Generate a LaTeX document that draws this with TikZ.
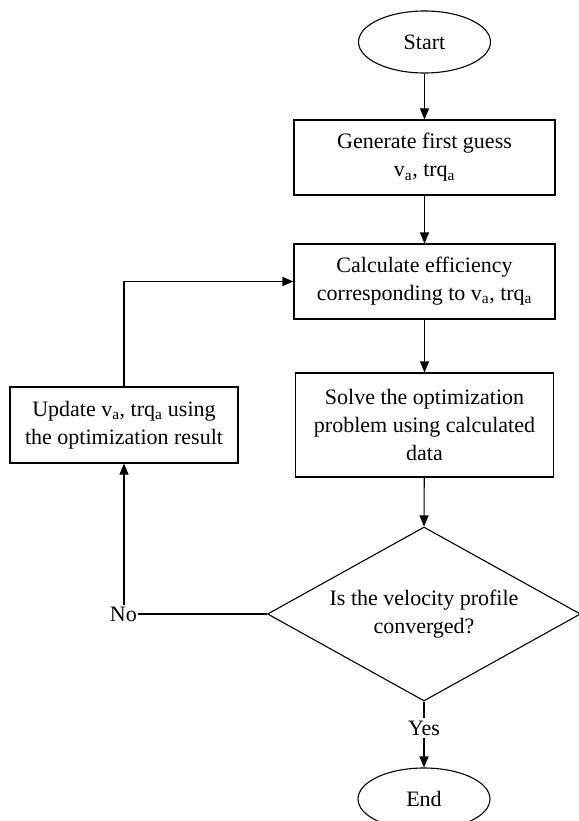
\documentclass[tikz,border=0pt]{standalone}
\usepackage{fontspec}
\setmainfont{Liberation Serif}
\usetikzlibrary{shapes.geometric,arrows.meta}

\begin{document}
\begin{tikzpicture}[x=1pt,y=-1pt,
  every node/.style={font=\fontsize{22}{28}\selectfont, align=center},
  flowbox/.style={draw, line width=1.1pt, rectangle, inner sep=2pt},
  terminal/.style={draw, line width=1.1pt, ellipse, minimum width=132pt, minimum height=62pt, inner sep=0pt},
  decision/.style={draw, line width=1.1pt, diamond, aspect=1.8, minimum width=313pt, minimum height=174pt, inner sep=0pt},
  flowlabel/.style={inner sep=1pt, fill=white},
  link/.style={line width=1.1pt, -{Triangle[length=11pt,width=9pt]}},
  plain/.style={line width=1.1pt}
]
\useasboundingbox (0,0) rectangle (578,821);

% main column
\node[terminal] (start) at (424.5,42) {Start};
\node[flowbox, minimum width=261pt, minimum height=75pt] (gen) at (424.5,157.5)
  {Generate first guess\\v\textsubscript{a}, trq\textsubscript{a}};
\node[flowbox, minimum width=261pt, minimum height=75pt] (calc) at (424.5,281.5)
  {Calculate efficiency\\corresponding to v\textsubscript{a}, trq\textsubscript{a}};
\node[flowbox, minimum width=258pt, minimum height=104pt] (solve) at (424.5,425)
  {Solve the optimization\\problem using calculated\\data};
\node[decision] (dec) at (424,614) {Is the velocity profile\\converged?};
\node[terminal] (end) at (424,799) {End};

% feedback branch
\node[flowbox, minimum width=228pt, minimum height=76pt] (upd) at (124,425)
  {Update v\textsubscript{a}, trq\textsubscript{a} using\\the optimization result};

% branch labels
\node[flowlabel, inner sep=2pt] (yes) at (424,728) {Yes};
\node[flowlabel, anchor=east] (no) at (dec.west -| 138,0) {No};

% connectors
\draw[link] (start) -- (gen);
\draw[link] (gen) -- (calc);
\draw[link] (calc) -- (solve);
\draw[link] (solve) -- (dec.north);
\draw[plain] (dec.south) -- (yes.north);
\draw[link] (yes.south) -- (end.north);
\draw[plain] (dec.west) -- (no.east);
\draw[link] (no.north -| upd.south) -- (upd.south);
\draw[link] (upd.north) |- (calc.west);
\end{tikzpicture}
\end{document}
